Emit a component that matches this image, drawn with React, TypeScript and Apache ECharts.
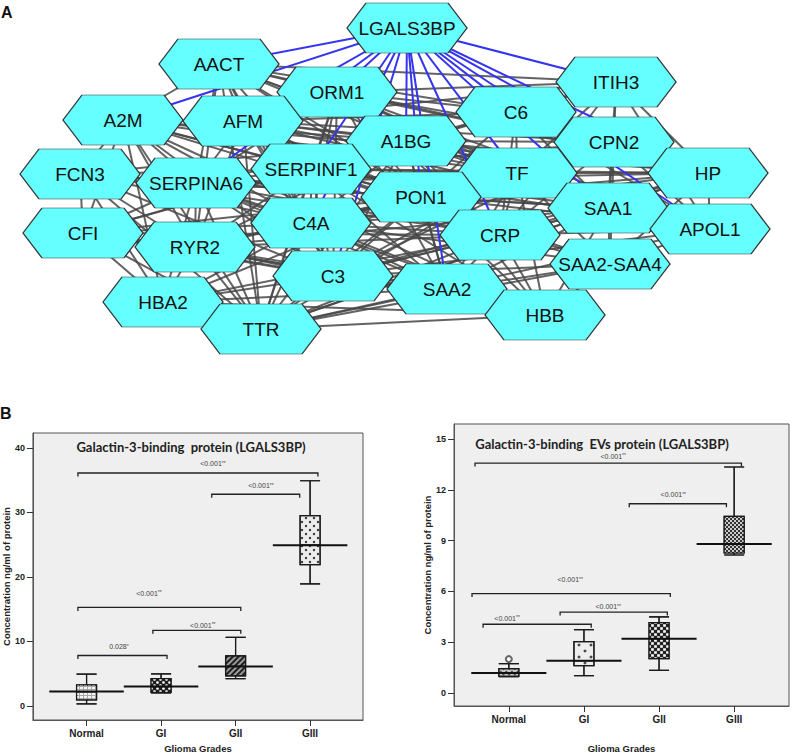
import React, { useEffect, useRef } from "react";
import * as echarts from "echarts";

// ---------- Panel A: network ----------
const nodeNames = ["LGALS3BP","AACT","ORM1","A2M","AFM","A1BG","C6","ITIH3","CPN2","TF","HP","SERPINF1","SERPINA6","FCN3","CFI","RYR2","HBA2","TTR","C4A","C3","PON1","CRP","SAA2","HBB","SAA1","APOL1","SAA2-SAA4"];
const nodeX = [407,219,337,123,243,406,516,616,614,517,708,311,196,80,83,195,163,261,311,333,421,500,447,545,608,710,610];
const nodeY = [28,64,92,120,121,141,112,82,142,173,173,169,183,174,233,247,302,329,223,276,197,235,289,315,208,229,264];

const greyEdges: Record<string, string[]> = {
  AACT: ["ORM1","AFM","A2M","A1BG","SERPINF1","C4A","C3","TTR","PON1","SAA1","CRP","SERPINA6","TF","HP","ITIH3","C6","RYR2"],
  A2M: ["AFM","SERPINA6","FCN3","CFI","RYR2","C4A","C3","TTR","HBA2","SERPINF1","PON1","CRP","A1BG","TF","HP","HBB"],
  AFM: ["SERPINA6","SERPINF1","A1BG","ORM1","C4A","C3","TTR","RYR2","TF","PON1","CRP","SAA1","HP","ITIH3","C6","CPN2"],
  ORM1: ["A1BG","SERPINF1","C6","TF","PON1","CRP","HP","SAA1","SAA2","C3","C4A","TTR","SERPINA6","ITIH3","CPN2","APOL1"],
  FCN3: ["SERPINA6","CFI","RYR2","C4A","C3","TTR","SERPINF1","PON1","CRP","A1BG","HBA2"],
  CFI: ["SERPINA6","RYR2","HBA2","TTR","C3","C4A","SERPINF1","PON1","CRP","SAA2","HBB","A1BG"],
  SERPINA6: ["SERPINF1","RYR2","C4A","C3","TTR","PON1","A1BG","CRP","TF","SAA1","SAA2","HBA2","HP","HBB"],
  SERPINF1: ["A1BG","PON1","C4A","C3","TTR","RYR2","CRP","TF","SAA1","SAA2","HP","C6","CPN2","APOL1","HBB","SAA2-SAA4"],
  RYR2: ["C4A","C3","TTR","HBA2","PON1","CRP","SAA2","HBB","SAA1","TF","A1BG"],
  HBA2: ["TTR","C3","C4A","HBB","SAA2","CRP","PON1"],
  TTR: ["C3","C4A","SAA2","HBB","CRP","PON1","SAA1","SAA2-SAA4","TF","A1BG","HP","APOL1"],
  C4A: ["PON1","C3","CRP","SAA2","TF","A1BG","HBB","SAA1","SAA2-SAA4","HP","CPN2"],
  C3: ["PON1","CRP","SAA2","HBB","TF","SAA1","SAA2-SAA4","A1BG","HP","APOL1","CPN2"],
  A1BG: ["PON1","TF","C6","CRP","SAA1","SAA2","CPN2","HP","ITIH3","APOL1","HBB"],
  PON1: ["TF","CRP","SAA2","SAA1","C6","HBB","SAA2-SAA4","HP","CPN2","APOL1"],
  C6: ["TF","ITIH3","CPN2","SAA1","CRP","HP","APOL1"],
  ITIH3: ["CPN2","HP","SAA1","TF","CRP","APOL1"],
  CPN2: ["TF","HP","SAA1","CRP","APOL1","SAA2-SAA4"],
  TF: ["CRP","SAA1","SAA2","HBB","HP","SAA2-SAA4","APOL1"],
  HP: ["SAA1","APOL1","SAA2-SAA4","CRP"],
  SAA1: ["CRP","APOL1","SAA2-SAA4","SAA2","HBB"],
  CRP: ["SAA2","HBB","SAA2-SAA4","APOL1"],
  SAA2: ["HBB","SAA2-SAA4"],
  HBB: ["SAA2-SAA4"],
  APOL1: ["SAA2-SAA4"],
};
const blueHub = "LGALS3BP";
const blueTargets = ["AACT","A2M","ORM1","AFM","A1BG","SERPINA6","SERPINF1","C6","ITIH3","CPN2","TF","HP","PON1","C4A","CRP","SAA1","SAA2","C3","APOL1"];

// ---------- Panel B: box plots ----------
const grades = ["Normal", "GI", "GII", "GIII"];
const gradePos = [1, 2, 3, 4];
// [min, Q1, median, Q3, max]
const leftBoxes = [
  [0.3, 0.93, 2.2, 3.26, 4.9],
  [2.0, 2.07, 3.0, 4.2, 4.96],
  [4.2, 4.65, 6.1, 7.75, 10.6],
  [18.9, 21.9, 24.9, 29.5, 34.9],
];
const rightBoxes = [
  [0.96, 0.98, 1.18, 1.44, 1.73],
  [1.02, 1.61, 1.91, 3.03, 3.74],
  [1.34, 2.03, 3.21, 4.15, 4.49],
  [8.15, 8.27, 8.8, 10.43, 13.35],
];
const rightOutliers = [[1, 2.0]];
const leftTicks = [0, 10, 20, 30, 40];
const rightTicks = [0, 3, 6, 9, 12, 15];
// brackets: [fromX, toX, y, labelX, labelY]
const leftBrackets = [
  [0.884, 4.105, 36.1, 2.696, 37.5],
  [2.68, 3.86, 32.8, 3.34, 34.1],
  [0.884, 3.07, 15.25, 1.837, 17.47],
  [1.89, 3.07, 11.7, 2.56, 12.5],
  [0.884, 2.08, 7.8, 1.434, 9.15],
];
const leftBracketLabels = [["<0.001", "**"], ["<0.001", "**"], ["<0.001", "**"], ["<0.001", "**"], ["0.028", "*"]];
const rightBrackets = [
  [0.55, 4.097, 13.58, 2.39, 13.98],
  [2.603, 3.897, 11.18, 3.19, 11.71],
  [0.51, 3.15, 5.87, 1.817, 6.69],
  [1.683, 3.11, 4.78, 2.323, 5.08],
  [0.657, 2.097, 4.06, 0.977, 4.41],
];
const rightBracketLabels = [["<0.001", "**"], ["<0.001", "**"], ["<0.001", "**"], ["<0.001", "**"], ["<0.001", "**"]];

// box fills and decal patterns
const leftFills = ["#a8a8a8", "#1e1e1e", "#9a9a9a", "#ececec"];
const leftDecals = [
  { symbol: "rect", symbolSize: 1, dashArrayX: [3, 1], dashArrayY: [2, 1], color: "#f4f4f4" },
  { symbol: "circle", symbolSize: 0.9, dashArrayX: [[3, 3], [0, 3, 3, 0]], dashArrayY: [3, 0], color: "#ffffff" },
  { symbol: "rect", symbolSize: 1, dashArrayX: [1, 0], dashArrayY: [1.5, 1.5], rotation: -Math.PI / 4, color: "#1e1e1e" },
  { symbol: "circle", symbolSize: 0.6, dashArrayX: [[4, 4], [0, 4, 4, 0]], dashArrayY: [4, 0], color: "#333333" },
];
const rightFills = ["#c8c8c8", "#eeeeee", "#222222", "#333333"];
const rightDecals = [
  { symbol: "rect", symbolSize: 1, dashArrayX: [2, 2], dashArrayY: [2, 2], rotation: Math.PI / 4, color: "#555555" },
  { symbol: "diamond", symbolSize: 0.6, dashArrayX: [[6, 6], [0, 6, 6, 0]], dashArrayY: [6, 0], color: "#444444" },
  { symbol: "rect", symbolSize: 0.9, dashArrayX: [[3, 3], [0, 3, 3, 0]], dashArrayY: [3, 0], color: "#ffffff" },
  { symbol: "rect", symbolSize: 0.9, dashArrayX: [[2, 2], [0, 2, 2, 0]], dashArrayY: [2, 0], color: "#dddddd" },
];

const hexPath = "path://M0,25L19,0L101,0L120,25L101,50L19,50Z";
const FONT = "Liberation Sans, Arial, sans-serif";
const NARROW = "Liberation Sans Narrow, Liberation Sans, Arial, sans-serif";

function boxAxes(gridIndex: number, xmin: number, xmax: number, ymin: number, ymax: number, ticks: number[], nameGapX: number) {
  const x = {
    gridIndex, type: "value", min: xmin, max: xmax,
    axisLine: { show: true, onZero: false, lineStyle: { color: "#555", width: 1 } },
    splitLine: { show: false },
    axisTick: { show: true, length: 6, customValues: gradePos, lineStyle: { color: "#333" } },
    axisLabel: { customValues: gradePos, margin: 8, formatter: (v: number) => grades[Math.round(v) - 1] ?? "", fontFamily: NARROW, fontWeight: "bold", fontSize: 10, color: "#222" },
    name: "Glioma Grades", nameLocation: "middle", nameGap: nameGapX,
    nameTextStyle: { fontFamily: FONT, fontWeight: "bold", fontSize: 9.5, color: "#222" },
  };
  const y = {
    gridIndex, type: "value", min: ymin, max: ymax,
    axisLine: { show: true, onZero: false, lineStyle: { color: "#555", width: 1 } },
    splitLine: { show: false },
    axisTick: { show: true, length: 6, customValues: ticks, lineStyle: { color: "#333" } },
    axisLabel: { customValues: ticks, margin: 8, fontFamily: NARROW, fontWeight: "bold", fontSize: 9, color: "#222" },
    name: "Concentration ng/ml of protein", nameLocation: "middle", nameGap: 16,
    nameTextStyle: { fontFamily: FONT, fontWeight: "bold", fontSize: 9.5, color: "#222" },
  };
  return { x, y };
}

function boxSeries(axisIndex: number, boxes: number[][], fills: string[], decals: any[], brackets: number[][], labels: string[][]) {
  return [
    {
      type: "boxplot", xAxisIndex: axisIndex, yAxisIndex: axisIndex, silent: true,
      boxWidth: [20, 20],
      itemStyle: { color: "#fff", borderColor: "#1a1a1a", borderWidth: 1.2 },
      data: boxes.map((b, i) => ({ value: [gradePos[i], ...b], itemStyle: { color: fills[i], decal: decals[i] } })),
    },
    {
      type: "custom", xAxisIndex: axisIndex, yAxisIndex: axisIndex, silent: true, z: 5,
      data: boxes.map((b, i) => [gradePos[i], b[2]]),
      renderItem: (params: any, api: any) => {
        const x = api.value(0), m = api.value(1);
        const p1 = api.coord([x - 0.5, m]);
        const p2 = api.coord([x + 0.5, m]);
        return { type: "line", shape: { x1: p1[0], y1: p1[1], x2: p2[0], y2: p2[1] }, style: { stroke: "#111", lineWidth: 2 } };
      },
    },
    {
      type: "custom", xAxisIndex: axisIndex, yAxisIndex: axisIndex, silent: true, z: 5,
      data: brackets,
      renderItem: (params: any, api: any) => {
        const a = api.coord([api.value(0), api.value(2)]);
        const b = api.coord([api.value(1), api.value(2)]);
        const l = api.coord([api.value(3), api.value(4)]);
        const lab = labels[params.dataIndex];
        return {
          type: "group",
          children: [
            { type: "polyline", shape: { points: [[a[0], a[1] + 3.5], [a[0], a[1]], [b[0], b[1]], [b[0], b[1] + 3.5]] }, style: { stroke: "#222", lineWidth: 1.3, fill: null } },
            {
              type: "text", x: l[0], y: l[1],
              style: {
                text: lab[0] + "{s|" + lab[1] + "}",
                align: "center", verticalAlign: "middle",
                fill: "#444", fontSize: 7, fontFamily: FONT,
                rich: { s: { fontSize: 5, verticalAlign: "top", fill: "#444", fontFamily: FONT } },
              },
            },
          ],
        };
      },
    },
  ];
}

export default function App() {
  const ref = useRef<HTMLDivElement>(null);
  useEffect(() => {
    if (!ref.current) return;
    const chart = echarts.init(ref.current, null, { renderer: "svg" });

    const nodes = nodeNames.map((n, i) => ({ name: n, value: [nodeX[i], nodeY[i]] }));
    const links: any[] = [];
    Object.keys(greyEdges).forEach((s) => {
      greyEdges[s].forEach((t) => links.push({ source: s, target: t }));
    });
    blueTargets.forEach((t) => links.push({ source: blueHub, target: t, lineStyle: { color: "#3535f0", width: 2, opacity: 1 } }));

    const L = boxAxes(1, 0.28, 4.71, -2.2, 42.3, leftTicks, 23);
    const R = boxAxes(2, 0.27, 4.73, -0.77, 15.89, rightTicks, 37);

    chart.setOption({
      animation: false,
      backgroundColor: "#ffffff",
      grid: [
        { left: 0, top: 0, width: 794, height: 360, show: false },
        { left: 32, top: 433, width: 331, height: 287, show: true, backgroundColor: "#efefef", borderColor: "#555", borderWidth: 1 },
        { left: 454, top: 424, width: 335, height: 282, show: true, backgroundColor: "#efefef", borderColor: "#555", borderWidth: 1 },
      ],
      xAxis: [{ gridIndex: 0, type: "value", min: 0, max: 794, show: false }, L.x, R.x],
      yAxis: [{ gridIndex: 0, type: "value", min: 0, max: 360, inverse: true, show: false }, L.y, R.y],
      graphic: [
        { type: "text", x: 1, y: 4, z: 100, style: { text: "A", fontSize: 16, fontWeight: "bold", fontFamily: FONT, fill: "#111" } },
        { type: "text", x: 0, y: 405, z: 100, style: { text: "B", fontSize: 16, fontWeight: "bold", fontFamily: FONT, fill: "#111" } },
        { type: "text", x: 191, y: 447, z: 100, style: { text: "Galactin-3-binding  protein (LGALS3BP)", align: "center", verticalAlign: "middle", fontSize: 13, fontWeight: "bold", fontFamily: "Lato, " + FONT, fill: "#222" } },
        { type: "text", x: 602, y: 444, z: 100, style: { text: "Galactin-3-binding  EVs protein (LGALS3BP)", align: "center", verticalAlign: "middle", fontSize: 13, fontWeight: "bold", fontFamily: "Lato, " + FONT, fill: "#222" } },
      ],
      series: [
        {
          type: "graph", coordinateSystem: "cartesian2d", xAxisIndex: 0, yAxisIndex: 0,
          silent: true, roam: false,
          data: nodes, links,
          symbol: hexPath, symbolSize: [120, 50],
          itemStyle: { color: "#66ffff", borderColor: "#333", borderWidth: 1 },
          label: { show: true, position: "inside", fontSize: 19, color: "#111", fontFamily: FONT },
          lineStyle: { color: "#484848", width: 2, opacity: 0.85, curveness: 0 },
          emphasis: { disabled: true },
        },
        ...boxSeries(1, leftBoxes, leftFills, leftDecals, leftBrackets, leftBracketLabels),
        ...boxSeries(2, rightBoxes, rightFills, rightDecals, rightBrackets, rightBracketLabels),
        {
          type: "scatter", xAxisIndex: 2, yAxisIndex: 2, silent: true, z: 6,
          data: rightOutliers, symbol: "emptyCircle", symbolSize: 6,
          itemStyle: { color: "#444", borderWidth: 1 },
        },
      ],
    });
    return () => chart.dispose();
  }, []);
  return <div ref={ref} style={{ position: "fixed", left: 0, top: 0, width: 794, height: 755, background: "#fff" }} />;
}
